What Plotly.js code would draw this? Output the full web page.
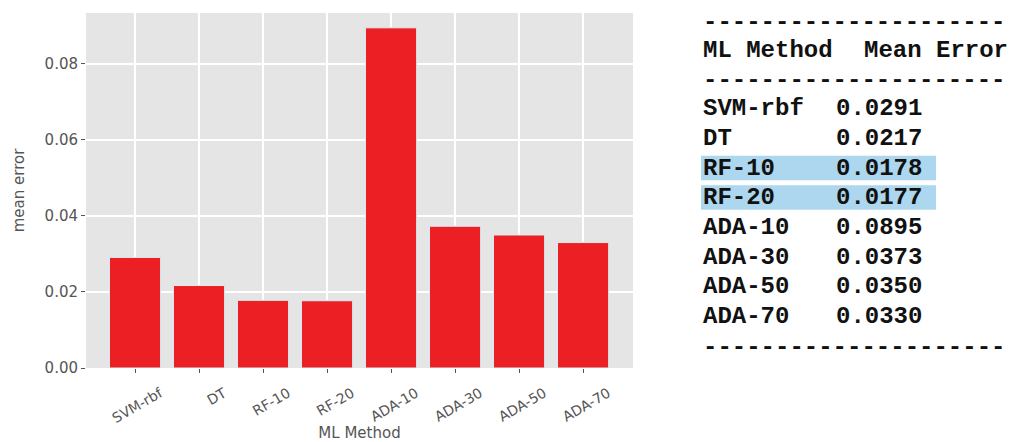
<!DOCTYPE html>
<html>
<head>
<meta charset="utf-8">
<script src="https://cdn.plot.ly/plotly-3.0.1.min.js"></script>
<style>html,body{margin:0;padding:0;background:#fff;}#chart{width:1011px;height:442px;}</style>
</head>
<body>
<div id="chart"></div>
<script>
const methods = ["SVM-rbf", "DT", "RF-10", "RF-20", "ADA-10", "ADA-30", "ADA-50", "ADA-70"];
const meanErrors = [0.0291, 0.0217, 0.0178, 0.0177, 0.0895, 0.0373, 0.0350, 0.0330];
const highlighted = ["RF-10", "RF-20"];
const yTicks = [0, 0.02, 0.04, 0.06, 0.08];
const tableHeader = ["ML Method", "Mean Error"];

const W = 1011, H = 442;
const M = {l: 86, r: 378, t: 13, b: 74};
const pw = W - M.l - M.r, ph = H - M.t - M.b;
const px = x => (x - M.l) / pw;
const py = y => (H - M.b - y) / ph;

const mono = {family: "Liberation Mono, Courier New, monospace", size: 24, color: "#111"};
const annotations = [];
const shapes = [];
const dash = "-".repeat(21);
const colX = 701, valX = 834, hdrX2 = 862;
const rowY0 = 109, rowStep = 29.6;

function addText(t, x, y) {
  annotations.push({text: "<b>" + t + "</b>", x: px(x), y: py(y), xref: "paper", yref: "paper", xanchor: "left", yanchor: "middle", showarrow: false, font: mono});
}
addText(dash, colX, 23);
addText(tableHeader[0], colX, 51);
addText(tableHeader[1], hdrX2, 51);
addText(dash, colX, 81);
methods.forEach((m, i) => {
  const yc = rowY0 + i * rowStep;
  if (highlighted.includes(m)) {
    shapes.push({type: "rect", xref: "paper", yref: "paper", x0: px(701), x1: px(936), y0: py(yc - 12.5), y1: py(yc + 12), fillcolor: "#acd7ef", line: {width: 0}, layer: "below"});
  }
  addText(m, colX, yc);
  addText(meanErrors[i].toFixed(4), valX, yc);
});
addText(dash, colX, 347);

const trace = {
  type: "bar",
  x: methods,
  y: meanErrors,
  width: 0.8,
  marker: {color: "#ec2024", line: {color: "#d6eef6", width: 1}},
  hoverinfo: "x+y"
};

const layout = {
  width: W, height: H,
  margin: M,
  paper_bgcolor: "#ffffff",
  plot_bgcolor: "#e5e5e5",
  showlegend: false,
  font: {family: "DejaVu Sans, sans-serif", color: "#555"},
  xaxis: {
    type: "category",
    range: [-0.766, 7.78],
    showgrid: true, gridcolor: "#ffffff", gridwidth: 1.2,
    ticks: "outside", ticklen: 4, tickcolor: "#555", tickwidth: 1,
    tickangle: -30,
    ticklabelshift: 25,
    ticklabelstandoff: 7,
    tickfont: {size: 14, color: "#555"},
    showline: false, zeroline: false,
    title: {text: "ML Method", font: {size: 15, color: "#555"}, standoff: 16}
  },
  yaxis: {
    range: [0, 0.0934],
    tickvals: yTicks,
    ticktext: yTicks.map(v => v.toFixed(2)),
    showgrid: true, gridcolor: "#ffffff", gridwidth: 1.2,
    ticks: "outside", ticklen: 4, tickcolor: "#555", tickwidth: 1,
    tickfont: {size: 15, color: "#555"},
    showline: false, zeroline: false,
    title: {text: "mean error", font: {size: 15, color: "#555"}, standoff: 16}
  },
  annotations: annotations,
  shapes: shapes
};

Plotly.newPlot("chart", [trace], layout, {displayModeBar: false, staticPlot: true});
</script>
</body>
</html>
